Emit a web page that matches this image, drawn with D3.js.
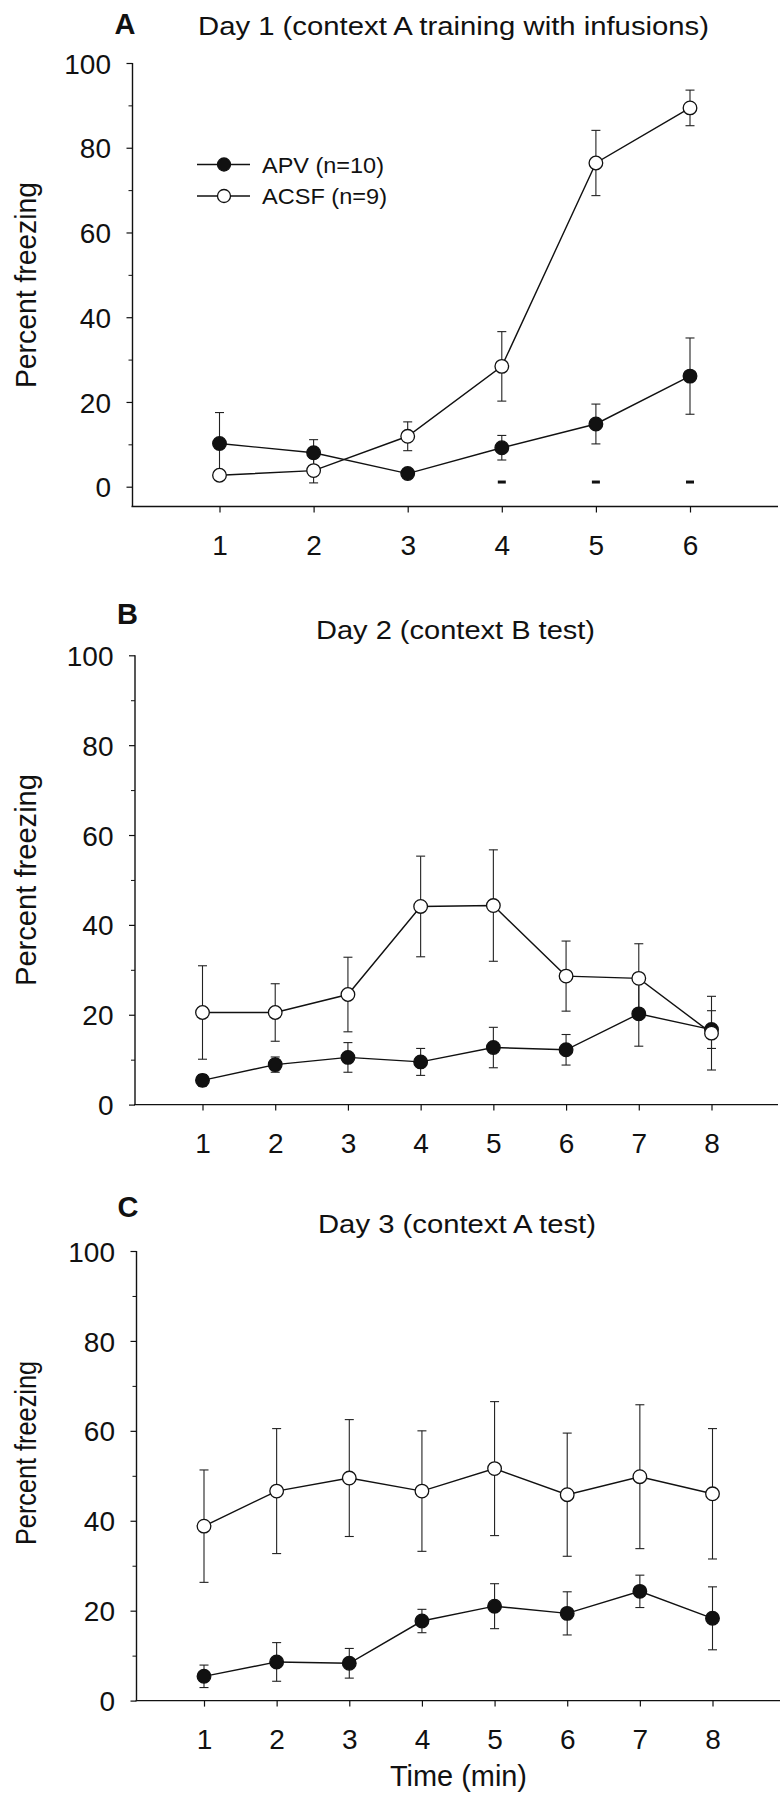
<!DOCTYPE html>
<html>
<head>
<meta charset="utf-8">
<script src="https://cdn.jsdelivr.net/npm/d3@7"></script>
<style>
  html, body { margin: 0; padding: 0; background: #fff; }
  svg { display: block; }
  text { font-family: "Liberation Sans", Arial, Helvetica, sans-serif; fill: #111; }
</style>
</head>
<body>
<svg id="chart" width="782" height="1800"></svg>
<script>
// ---------------- data ----------------
const panelLetters = ["A", "B", "C"];
const panelTitles = [
  "Day 1 (context A training with infusions)",
  "Day 2 (context B test)",
  "Day 3 (context A test)"
];
const yAxisTitle = "Percent freezing";
const xAxisTitle = "Time (min)";
const legendLabels = ["APV (n=10)", "ACSF (n=9)"];

const minutesDay1 = [1, 2, 3, 4, 5, 6];
const minutesDay23 = [1, 2, 3, 4, 5, 6, 7, 8];

const yMajorTicks = [0, 20, 40, 60, 80, 100];
const yMinorTicks = [10, 30, 50, 70, 90];

// Day 1
const apvDay1 = [10.2, 8.0, 3.1, 9.2, 14.8, 26.1];
const apvDay1Err = [7.3, 3.1, 0.6, 2.9, 4.7, 9.0];
const acsfDay1 = [2.7, 3.8, 11.9, 28.4, 76.4, 89.4];
const acsfDay1Err = [1.0, 2.9, 3.4, 8.2, 7.7, 4.2];
const sigMinutesDay1 = [4, 5, 6];

// Day 2
const apvDay2 = [5.4, 8.9, 10.5, 9.5, 12.7, 12.2, 20.2, 16.7];
const apvDay2Err = [1.3, 1.7, 3.3, 3.0, 4.5, 3.4, 7.2, 4.2];
const acsfDay2 = [20.5, 20.5, 24.5, 44.1, 44.3, 28.6, 28.1, 15.9];
const acsfDay2Err = [10.4, 6.4, 8.3, 11.2, 12.4, 7.8, 7.7, 8.2];

// Day 3
const apvDay3 = [5.4, 8.6, 8.3, 17.7, 21.0, 19.4, 24.3, 18.3];
const apvDay3Err = [2.5, 4.3, 3.3, 2.6, 5.0, 4.8, 3.6, 7.0];
const acsfDay3 = [38.8, 46.6, 49.5, 46.6, 51.6, 45.8, 49.8, 46.0];
const acsfDay3Err = [12.5, 13.9, 13.0, 13.4, 14.9, 13.7, 16.0, 14.5];

// ---------------- layout ----------------
const svg = d3.select("#chart");
svg.append("rect").attr("width", 782).attr("height", 1800).attr("fill", "#fff");

const INK = "#111";
const FONT = '"Liberation Sans", Arial, Helvetica, sans-serif';

const panels = [
  {
    letter: panelLetters[0], title: panelTitles[0],
    minutes: minutesDay1,
    apv: apvDay1, apvErr: apvDay1Err, acsf: acsfDay1, acsfErr: acsfDay1Err,
    sig: sigMinutesDay1,
    yAxisX: 132.5, y0: 486.7, y100: 63, xAxisY: 506.5,
    xFirst: 219.5, xLast: 690, xAxisEnd: 778,
    letterX: 125, letterY: 33.5, titleX: 453.5, titleY: 35, titleLen: 511,
    ylabY: 285, ylabLen: 206,
    legend: true
  },
  {
    letter: panelLetters[1], title: panelTitles[1],
    minutes: minutesDay23,
    apv: apvDay2, apvErr: apvDay2Err, acsf: acsfDay2, acsfErr: acsfDay2Err,
    sig: [],
    yAxisX: 135, y0: 1104.6, y100: 655.3, xAxisY: 1104.6,
    xFirst: 202.5, xLast: 711.5, xAxisEnd: 778,
    letterX: 127.5, letterY: 624, titleX: 455.5, titleY: 639, titleLen: 279,
    ylabY: 880, ylabLen: 212,
    legend: false
  },
  {
    letter: panelLetters[2], title: panelTitles[2],
    minutes: minutesDay23,
    apv: apvDay3, apvErr: apvDay3Err, acsf: acsfDay3, acsfErr: acsfDay3Err,
    sig: [],
    yAxisX: 136.5, y0: 1700.6, y100: 1251, xAxisY: 1700.6,
    xFirst: 204, xLast: 712.5, xAxisEnd: 780,
    letterX: 128, letterY: 1216.5, titleX: 457, titleY: 1232.5, titleLen: 278,
    ylabY: 1453, ylabLen: 184,
    legend: false, xTitle: true
  }
];

panels.forEach(p => {
  const g = svg.append("g");
  const n = p.minutes.length;
  const x = d3.scaleLinear()
    .domain([p.minutes[0], p.minutes[n - 1]])
    .range([p.xFirst, p.xLast]);
  const y = d3.scaleLinear().domain([0, 100]).range([p.y0, p.y100]);

  // panel letter
  g.append("text")
    .attr("x", p.letterX).attr("y", p.letterY)
    .attr("text-anchor", "middle")
    .style("font-size", "29px").style("font-weight", "bold")
    .text(p.letter);

  // title
  g.append("text")
    .attr("x", p.titleX).attr("y", p.titleY)
    .attr("text-anchor", "middle")
    .attr("textLength", p.titleLen).attr("lengthAdjust", "spacingAndGlyphs")
    .style("font-size", "26px")
    .text(p.title);

  // y axis title
  g.append("text")
    .attr("transform", `translate(36,${p.ylabY}) rotate(-90)`)
    .attr("text-anchor", "middle")
    .attr("textLength", p.ylabLen).attr("lengthAdjust", "spacingAndGlyphs")
    .style("font-size", "29px")
    .text(yAxisTitle);

  // y axis (major)
  const yAx = g.append("g")
    .attr("transform", `translate(${p.yAxisX},0)`)
    .call(d3.axisLeft(y).tickValues(yMajorTicks).tickSize(6).tickSizeOuter(0).tickFormat(d3.format("d")));
  yAx.select(".domain").remove();
  yAx.selectAll(".tick line").attr("stroke", INK).attr("stroke-width", 1.2);
  yAx.selectAll(".tick text")
    .attr("x", -21.5).attr("dy", "0.36em")
    .style("font-family", FONT).style("font-size", "28px").attr("fill", INK);

  // y axis (minor)
  const yMin = g.append("g")
    .attr("transform", `translate(${p.yAxisX},0)`)
    .call(d3.axisLeft(y).tickValues(yMinorTicks).tickSize(4).tickSizeOuter(0).tickFormat(""));
  yMin.select(".domain").remove();
  yMin.selectAll(".tick line").attr("stroke", INK).attr("stroke-width", 1);

  // y axis line
  g.append("line")
    .attr("x1", p.yAxisX).attr("x2", p.yAxisX)
    .attr("y1", y(100)).attr("y2", p.xAxisY)
    .attr("stroke", INK).attr("stroke-width", 1.4);

  // x axis
  const xAx = g.append("g")
    .attr("transform", `translate(0,${p.xAxisY})`)
    .call(d3.axisBottom(x).tickValues(p.minutes).tickSize(6).tickSizeOuter(0).tickFormat(d3.format("d")));
  xAx.select(".domain").remove();
  xAx.selectAll(".tick line").attr("stroke", INK).attr("stroke-width", 1.2);
  xAx.selectAll(".tick text")
    .attr("y", 48).attr("dy", null)
    .style("font-family", FONT).style("font-size", "28px").attr("fill", INK);

  g.append("line")
    .attr("x1", p.yAxisX - 1).attr("x2", p.xAxisEnd)
    .attr("y1", p.xAxisY).attr("y2", p.xAxisY)
    .attr("stroke", INK).attr("stroke-width", 1.4);

  if (p.xTitle) {
    g.append("text")
      .attr("x", 458.5).attr("y", p.xAxisY + 85)
      .attr("text-anchor", "middle")
      .attr("textLength", 137).attr("lengthAdjust", "spacingAndGlyphs")
      .style("font-size", "29px")
      .text(xAxisTitle);
  }

  const series = [
    { vals: p.apv, errs: p.apvErr, fill: INK },
    { vals: p.acsf, errs: p.acsfErr, fill: "#fff" }
  ];

  // error bars
  series.forEach(s => {
    const eb = g.append("g").attr("stroke", "#222").attr("stroke-width", 1.1).attr("fill", "none");
    s.vals.forEach((v, i) => {
      const cx = x(p.minutes[i]);
      const hi = y(v + s.errs[i]), lo = y(Math.max(0, v - s.errs[i]));
      eb.append("line").attr("x1", cx).attr("x2", cx).attr("y1", hi).attr("y2", lo);
      eb.append("line").attr("x1", cx - 4.5).attr("x2", cx + 4.5).attr("y1", hi).attr("y2", hi);
      eb.append("line").attr("x1", cx - 4.5).attr("x2", cx + 4.5).attr("y1", lo).attr("y2", lo);
    });
  });

  // lines
  const lineGen = d3.line().x((d, i) => x(p.minutes[i])).y(d => y(d));
  series.forEach(s => {
    g.append("path").datum(s.vals)
      .attr("d", lineGen)
      .attr("fill", "none").attr("stroke", INK).attr("stroke-width", 1.4);
  });

  // markers
  series.forEach(s => {
    g.append("g").selectAll("circle").data(s.vals).join("circle")
      .attr("cx", (d, i) => x(p.minutes[i]))
      .attr("cy", d => y(d))
      .attr("r", 6.8)
      .attr("fill", s.fill).attr("stroke", INK).attr("stroke-width", 1.3);
  });

  // significance marks
  g.append("g").selectAll("rect").data(p.sig).join("rect")
    .attr("x", d => x(d) - 4).attr("y", y(1.1) - 1.5)
    .attr("width", 8).attr("height", 3)
    .attr("fill", INK);

  // legend
  if (p.legend) {
    const rows = [
      { label: legendLabels[0], fill: INK, ly: 164.5 },
      { label: legendLabels[1], fill: "#fff", ly: 196 }
    ];
    const lens = [122, 125];
    rows.forEach((r, k) => {
      g.append("line")
        .attr("x1", 197).attr("x2", 250).attr("y1", r.ly).attr("y2", r.ly)
        .attr("stroke", INK).attr("stroke-width", 1.3);
      g.append("circle")
        .attr("cx", 224).attr("cy", r.ly).attr("r", 6.5)
        .attr("fill", r.fill).attr("stroke", INK).attr("stroke-width", 1.3);
      g.append("text")
        .attr("x", 262).attr("y", r.ly + 8)
        .attr("textLength", lens[k]).attr("lengthAdjust", "spacingAndGlyphs")
        .style("font-size", "22.5px")
        .text(r.label);
    });
  }
});
</script>
</body>
</html>
